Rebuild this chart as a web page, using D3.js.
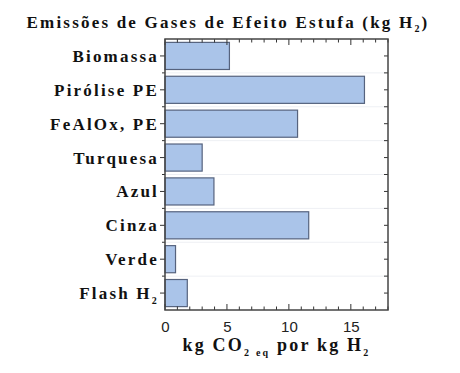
<!DOCTYPE html>
<html>
<head>
<meta charset="utf-8">
<script src="https://cdn.jsdelivr.net/npm/d3@7"></script>
<style>
  body { margin: 0; background: #fff; }
</style>
</head>
<body>
<svg width="460" height="373"></svg>
<script>
// data
var categories = ["Biomassa", "Pirólise PE", "FeAlOx, PE", "Turquesa", "Azul", "Cinza", "Verde", "Flash H_2"];
var values = [5.2, 16.1, 10.7, 3.0, 3.95, 11.6, 0.85, 1.8];
var xTicks = [0, 5, 10, 15];

var serif = "'Liberation Serif', 'Times New Roman', Times, serif";

var margin = {top: 39, right: 72, bottom: 63, left: 165},
  width = 460 - margin.left - margin.right,
  height = 373 - margin.top - margin.bottom;

var svg = d3.select("svg")
  .append("g")
  .attr("transform", "translate(" + margin.left + "," + margin.top + ")");

var x = d3.scaleLinear().domain([0, 18]).range([0, width]);
var y = d3.scaleBand().domain(categories).range([0, height])
  .paddingInner(0.2).paddingOuter(0.1);

// faint lines between bands
var step = y.step();
var bounds = d3.range(1, categories.length).map(function(i) {
  return y(categories[i]) - step * 0.1;
});
svg.selectAll(".grid").data(bounds).enter().append("line")
  .attr("x1", 0).attr("x2", width)
  .attr("y1", function(d) { return d; }).attr("y2", function(d) { return d; })
  .style("stroke", "#eef0f4").style("stroke-width", 1);

// bars
svg.selectAll(".bar").data(values).enter().append("rect")
  .attr("x", x(0))
  .attr("y", function(d, i) { return y(categories[i]); })
  .attr("width", function(d) { return x(d) - x(0); })
  .attr("height", y.bandwidth())
  .style("fill", "#aac4e9")
  .style("stroke", "#56637e")
  .style("stroke-width", 1.2);

// unit ticks on top and bottom, pointing inward
var units = d3.range(0, 19);
function tickLen(d) { return d % 5 === 0 ? 6 : 3.5; }
svg.selectAll(".tb").data(units).enter().append("line")
  .attr("x1", function(d) { return x(d); }).attr("x2", function(d) { return x(d); })
  .attr("y1", height).attr("y2", function(d) { return height - tickLen(d); })
  .style("stroke", "#333").style("stroke-width", 1);
svg.selectAll(".tt").data(units).enter().append("line")
  .attr("x1", function(d) { return x(d); }).attr("x2", function(d) { return x(d); })
  .attr("y1", 0).attr("y2", function(d) { return tickLen(d); })
  .style("stroke", "#333").style("stroke-width", 1);

// x axis numbers
var xAxis = svg.append("g")
  .attr("transform", "translate(0," + height + ")")
  .call(d3.axisBottom(x).tickValues(xTicks).tickSize(0).tickPadding(11));
xAxis.select(".domain").remove();
xAxis.selectAll("text")
  .style("font-family", "'Liberation Sans', Arial, sans-serif")
  .style("font-size", "15px")
  .style("fill", "#222");

// y axis labels
var yAxis = svg.append("g")
  .call(d3.axisLeft(y).tickSize(5).tickPadding(2).tickFormat(""));
yAxis.select(".domain").remove();
yAxis.selectAll("line").style("stroke", "#333");
yAxis.selectAll(".tick").each(function(d) {
  var parts = d.split("_");
  var t = d3.select(this).append("text")
    .attr("x", -6)
    .attr("dy", "0.35em")
    .style("font-family", serif)
    .style("font-weight", "bold")
    .style("fill", "#111")
    .style("text-anchor", "end")
    .style("font-size", "17px")
    .style("letter-spacing", "2.2px");
  t.append("tspan").text(parts[0]);
  if (parts[1]) {
    t.append("tspan").attr("dy", 5).style("font-size", "10px").text(parts[1]);
  }
});

// minor ticks at band edges on left, all ticks on right (inward)
svg.selectAll(".lm").data(bounds).enter().append("line")
  .attr("x1", 0).attr("x2", -3)
  .attr("y1", function(d) { return d; }).attr("y2", function(d) { return d; })
  .style("stroke", "#333");
var rightTicks = bounds.concat(categories.map(function(c) { return y(c) + y.bandwidth() / 2; }));
svg.selectAll(".rt").data(rightTicks).enter().append("line")
  .attr("x1", width).attr("x2", width - 4)
  .attr("y1", function(d) { return d; }).attr("y2", function(d) { return d; })
  .style("stroke", "#333");

// frame
svg.append("rect")
  .attr("width", width).attr("height", height)
  .style("fill", "none").style("stroke", "#444").style("stroke-width", 1.5);

// x axis title
var xt = svg.append("text")
  .attr("x", width / 2).attr("y", height + 41)
  .style("font-family", serif).style("font-weight", "bold").style("fill", "#111")
  .style("text-anchor", "middle")
  .style("font-size", "18px")
  .style("letter-spacing", "2.2px");
xt.append("tspan").text("kg CO");
xt.append("tspan").attr("dy", 5).style("font-size", "10px").text("2 eq");
xt.append("tspan").attr("dy", -5).text(" por kg H");
xt.append("tspan").attr("dy", 5).style("font-size", "10px").text("2");

// title
var title = d3.select("svg").append("text")
  .attr("x", 228).attr("y", 28)
  .style("font-family", serif).style("font-weight", "bold").style("fill", "#111")
  .style("text-anchor", "middle")
  .style("font-size", "17px")
  .style("letter-spacing", "2.2px");
title.append("tspan").text("Emissões de Gases de Efeito Estufa (kg H");
title.append("tspan").attr("dy", 4).style("font-size", "10px").text("2");
title.append("tspan").attr("dy", -4).text(")");
</script>
</body>
</html>
